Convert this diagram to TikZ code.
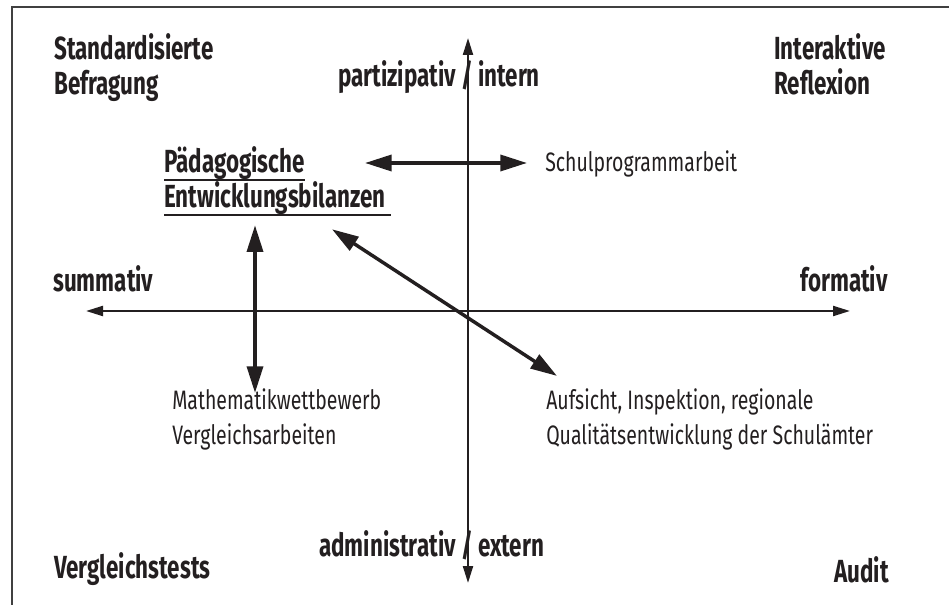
\documentclass[tikz,border=0pt]{standalone}
\usepackage{fontspec}
\setmainfont[FakeStretch=0.73,BoldFeatures={FakeStretch=0.70}]{Fira Sans}
\usepackage{tikz}
\usetikzlibrary{arrows.meta,calc}
\definecolor{ink}{HTML}{231F20}
% text with a thick rule below it
\newcommand\markline[1]{\setbox0\hbox{#1}\leavevmode\rlap{\rule[-6pt]{\wd0}{1.5pt}}\box0}
\tikzset{
  % bold labels in the corners and on the axes
  corner label/.style={font=\fontsize{24}{26.25}\selectfont\bfseries, text=ink, inner sep=0pt, align=left},
  % plain labels of the single approaches
  item label/.style={font=\fontsize{20}{26.25}\selectfont, text=ink, inner sep=0pt, align=left},
  % thin axes with small heads
  axis arrow/.style={draw=ink, line width=1.6pt,
    {Triangle[length=12.75pt,width=7.5pt]}-{Triangle[length=12.75pt,width=7.5pt]}},
  % thick arrows with large heads
  link arrow/.style={draw=ink, line width=2.6pt,
    {Triangle[length=20pt,width=12pt]}-{Triangle[length=20pt,width=12pt]}},
}

\begin{document}
\begin{tikzpicture}[x=0.75pt,y=-0.75pt]
\useasboundingbox (0,0) rectangle (949,605);

% Frame (open at the bottom and on the right)
\draw[black!75, line width=1.5pt] (12,605) -- (12,7) -- (949,7);

% Axes
\coordinate (top) at (468,38);
\coordinate (bottom) at (468,583);
\coordinate (left) at (86,311);
\coordinate (right) at (850,311);
\draw[axis arrow] (top) -- (bottom);
\draw[axis arrow] (left) -- (right);

% Corner labels
\node[corner label, anchor=base west] (std) at (54,95) {Standardisierte\\Befragung};
\node[corner label, anchor=base west] (inter) at (774,95) {Interaktive\\Reflexion};
\node[corner label, anchor=base west] (vgl) at (54,578) {Vergleichstests};
\node[corner label, anchor=base east] (audit) at (889,582) {Audit};

% Axis labels (slash sits on the axis)
\node[corner label, anchor=base] (partizip) at (467,87) {\llap{partizipativ }/\rlap{ intern}};
\node[corner label, anchor=base] (admin) at (467,556) {\llap{administrativ }/\rlap{ extern}};
\node[corner label, anchor=base west] (summ) at (53,292) {summativ};
\node[corner label, anchor=base east] (form) at (888,292) {formativ};

% Approaches
\node[corner label, anchor=base west] (bilanz) at (164,208)
  {\markline{Pädagogische}\\\markline{Entwicklungsbilanzen\ }};
\node[item label, anchor=base west] (schul) at (545,172) {Schulprogrammarbeit};
\node[item label, anchor=base west] (mathe) at (172,445) {Mathematikwettbewerb\\Vergleichsarbeiten};
\node[item label, anchor=base west] (aufsicht) at (546,445)
  {Aufsicht, Inspektion, regionale\\Qualitätsentwicklung der Schulämter};

% Arrows between the approaches
\coordinate (h) at (365,163);
\coordinate (v) at (255,0);
\draw[link arrow, shorten >=13.5pt] (h) -- (h -| schul.west);
\draw[link arrow, shorten <=6.75pt, shorten >=-3pt] (bilanz.south -| v) -- (mathe.north -| v);
\draw[link arrow] ($(bilanz.south west)+(168,13)$) -- ($(aufsicht.north west)+(11,-13)$);

\end{tikzpicture}
\end{document}
